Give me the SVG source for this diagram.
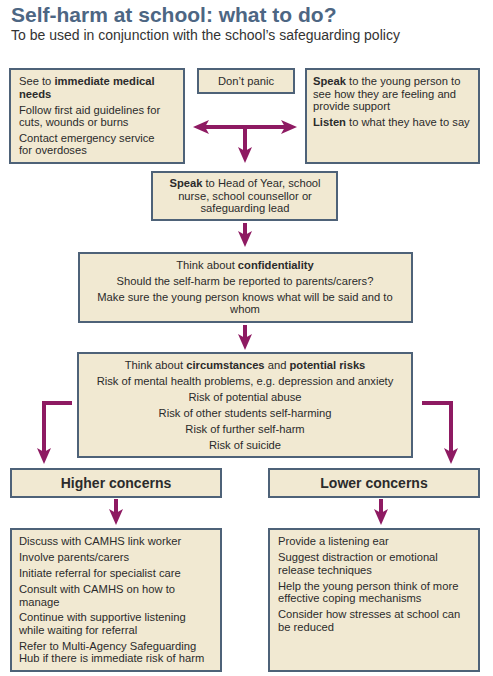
<svg xmlns="http://www.w3.org/2000/svg" width="493" height="676" viewBox="0 0 493 676">
<style>
.box{fill:#f1e9d2;stroke:#4e6278;stroke-width:2}
.t{font-family:"Liberation Sans",Arial,sans-serif;font-size:11.2px;fill:#2b2b2b}
.c{text-anchor:middle}
.b{font-weight:bold}
.h{font-family:"Liberation Sans",Arial,sans-serif;font-size:14px;font-weight:bold;fill:#2b2b2b;text-anchor:middle}
.arr{fill:none;stroke:#8e1a62;stroke-width:4;stroke-linejoin:miter;marker-end:url(#ah)}
</style>
<defs>
<marker id="ah" markerUnits="userSpaceOnUse" markerWidth="16" markerHeight="14" refX="4" refY="7" orient="auto" overflow="visible">
<path d="M0,0 L16,7 L0,14 L4,7 z" fill="#8e1a62"/>
</marker>
</defs>
<rect width="493" height="676" fill="#ffffff"/>
<g id="title">
<text x="11" y="22" font-family="Liberation Sans, Arial, sans-serif" font-size="21px" font-weight="bold" fill="#4d6683">Self-harm at school: what to do?</text>
<text x="11" y="40" font-family="Liberation Sans, Arial, sans-serif" font-size="14px" fill="#333333">To be used in conjunction with the school’s safeguarding policy</text>
</g>
<g id="medical">
<rect class="box" x="10" y="69" width="174" height="94"/>
<text class="t" x="19" y="85">See to <tspan class="b">immediate medical</tspan></text>
<text class="t b" x="19" y="97.5">needs</text>
<text class="t" x="19" y="113.5">Follow first aid guidelines for</text>
<text class="t" x="19" y="126">cuts, wounds or burns</text>
<text class="t" x="19" y="142">Contact emergency service</text>
<text class="t" x="19" y="154">for overdoses</text>
</g>
<g id="dontpanic">
<rect class="box" x="198" y="69" width="96" height="24"/>
<text class="t c" x="246" y="85">Don’t panic</text>
</g>
<g id="speakyoung">
<rect class="box" x="306" y="69" width="173" height="94"/>
<text class="t" x="313" y="85"><tspan class="b">Speak</tspan> to the young person to</text>
<text class="t" x="313" y="97.5">see how they are feeling and</text>
<text class="t" x="313" y="110">provide support</text>
<text class="t" x="313" y="126"><tspan class="b">Listen</tspan> to what they have to say</text>
</g>
<g id="speakhead">
<rect class="box" x="152" y="172" width="185" height="48"/>
<text class="t c" x="245" y="187"><tspan class="b">Speak</tspan> to Head of Year, school</text>
<text class="t c" x="245" y="199.5">nurse, school counsellor or</text>
<text class="t c" x="245" y="212">safeguarding lead</text>
</g>
<g id="confidentiality">
<rect class="box" x="79" y="253" width="333" height="69"/>
<text class="t c" x="245" y="269">Think about <tspan class="b">confidentiality</tspan></text>
<text class="t c" x="245" y="285">Should the self-harm be reported to parents/carers?</text>
<text class="t c" x="245" y="301">Make sure the young person knows what will be said and to</text>
<text class="t c" x="245" y="313">whom</text>
</g>
<g id="circumstances">
<rect class="box" x="78" y="353" width="334" height="104"/>
<text class="t c" x="245" y="369">Think about <tspan class="b">circumstances</tspan> and <tspan class="b">potential risks</tspan></text>
<text class="t c" x="245" y="385">Risk of mental health problems, e.g. depression and anxiety</text>
<text class="t c" x="245" y="401">Risk of potential abuse</text>
<text class="t c" x="245" y="417">Risk of other students self-harming</text>
<text class="t c" x="245" y="433">Risk of further self-harm</text>
<text class="t c" x="245" y="449">Risk of suicide</text>
</g>
<g id="higher">
<rect class="box" x="11" y="469" width="210" height="28"/>
<text class="h" x="116" y="488">Higher concerns</text>
</g>
<g id="lower">
<rect class="box" x="269" y="469" width="210" height="28"/>
<text class="h" x="374" y="488">Lower concerns</text>
</g>
<g id="higheractions">
<rect class="box" x="11" y="529" width="210" height="142"/>
<text class="t" x="19" y="545">Discuss with CAMHS link worker</text>
<text class="t" x="19" y="561">Involve parents/carers</text>
<text class="t" x="19" y="577">Initiate referral for specialist care</text>
<text class="t" x="19" y="593">Consult with CAMHS on how to</text>
<text class="t" x="19" y="605.5">manage</text>
<text class="t" x="19" y="621">Continue with supportive listening</text>
<text class="t" x="19" y="633.5">while waiting for referral</text>
<text class="t" x="19" y="649.5">Refer to Multi-Agency Safeguarding</text>
<text class="t" x="19" y="662">Hub if there is immediate risk of harm</text>
</g>
<g id="loweractions">
<rect class="box" x="269" y="529" width="210" height="142"/>
<text class="t" x="278" y="545">Provide a listening ear</text>
<text class="t" x="278" y="561">Suggest distraction or emotional</text>
<text class="t" x="278" y="573.5">release techniques</text>
<text class="t" x="278" y="589.5">Help the young person think of more</text>
<text class="t" x="278" y="602">effective coping mechanisms</text>
<text class="t" x="278" y="618">Consider how stresses at school can</text>
<text class="t" x="278" y="630.5">be reduced</text>
</g>
<g id="connectors">
<path class="arr" d="M245,127 L205,127"/>
<path class="arr" d="M245,127 L285,127"/>
<path class="arr" d="M245,127 L245,151"/>
<path class="arr" d="M245,223 L245,235"/>
<path class="arr" d="M245,325 L245,338"/>
<path class="arr" d="M72,403 L44,403 L44,452"/>
<path class="arr" d="M422,403 L451,403 L451,452"/>
<path class="arr" d="M116,499 L116,513"/>
<path class="arr" d="M381,499 L381,513"/>
</g>
</svg>
